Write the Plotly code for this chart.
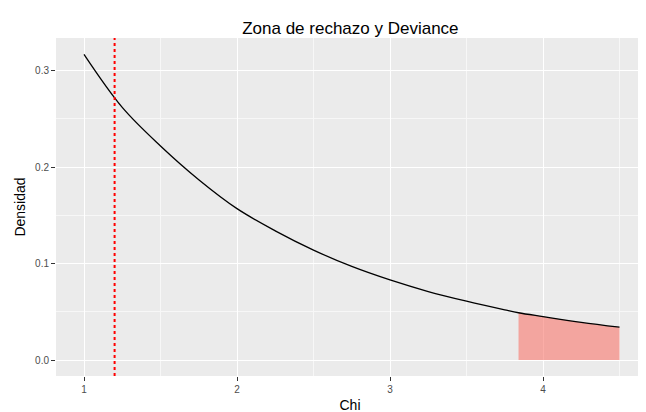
import plotly.graph_objects as go

# densidad
chi = [1.0, 1.25, 1.5, 1.75, 2.0, 2.25, 2.5, 2.75, 3.0, 3.25, 3.5, 3.75, 3.84, 4.0, 4.25, 4.5]
dens = [0.317, 0.262, 0.222, 0.187, 0.157, 0.134, 0.114, 0.097, 0.083, 0.071, 0.061, 0.052, 0.049, 0.045, 0.039, 0.034]
critico = 3.84
deviance = 1.2

zx = [x for x in chi if x >= critico]
zy = [y for x, y in zip(chi, dens) if x >= critico]

fig = go.Figure()
fig.add_trace(go.Scatter(x=[zx[0]] + zx + [zx[-1]], y=[0] + zy + [0], fill="toself",
                         fillcolor="rgba(248,118,109,0.6)", line=dict(width=0),
                         mode="lines", hoverinfo="skip"))
fig.add_trace(go.Scatter(x=chi, y=dens, mode="lines", line=dict(color="black", width=1.3, shape="spline")))
fig.add_vline(x=deviance, line=dict(color="red", width=2, dash="dot"))

axis = dict(showgrid=True, gridcolor="white", gridwidth=1.2, zeroline=False, automargin=False,
            ticks="outside", ticklen=4, tickcolor="#333", tickfont=dict(size=10, color="#4D4D4D"),
            minor=dict(showgrid=True, gridcolor="#F7F7F7", gridwidth=0.6))
fig.update_layout(
    width=646, height=412, showlegend=False,
    paper_bgcolor="white", plot_bgcolor="#EBEBEB",
    font=dict(family="Liberation Sans, Arial", color="black"),
    title=dict(text="Zona de rechazo y Deviance", x=0.53, xanchor="center", y=0.965, font=dict(size=17)),
    margin=dict(l=48, r=10, t=30, b=44),
    xaxis=dict(axis, range=[0.817, 4.66], tickvals=[1, 2, 3, 4], minor_tickvals=[1.5, 2.5, 3.5, 4.5],
               title=dict(text="Chi", font=dict(size=14), standoff=6)),
    yaxis=dict(axis, range=[-0.0166, 0.334], tickvals=[0, 0.1, 0.2, 0.3], ticktext=["0.0", "0.1", "0.2", "0.3"],
               minor_tickvals=[0.05, 0.15, 0.25], title=dict(text="Densidad", font=dict(size=14), standoff=6)),
)
fig.write_html("out.html")
